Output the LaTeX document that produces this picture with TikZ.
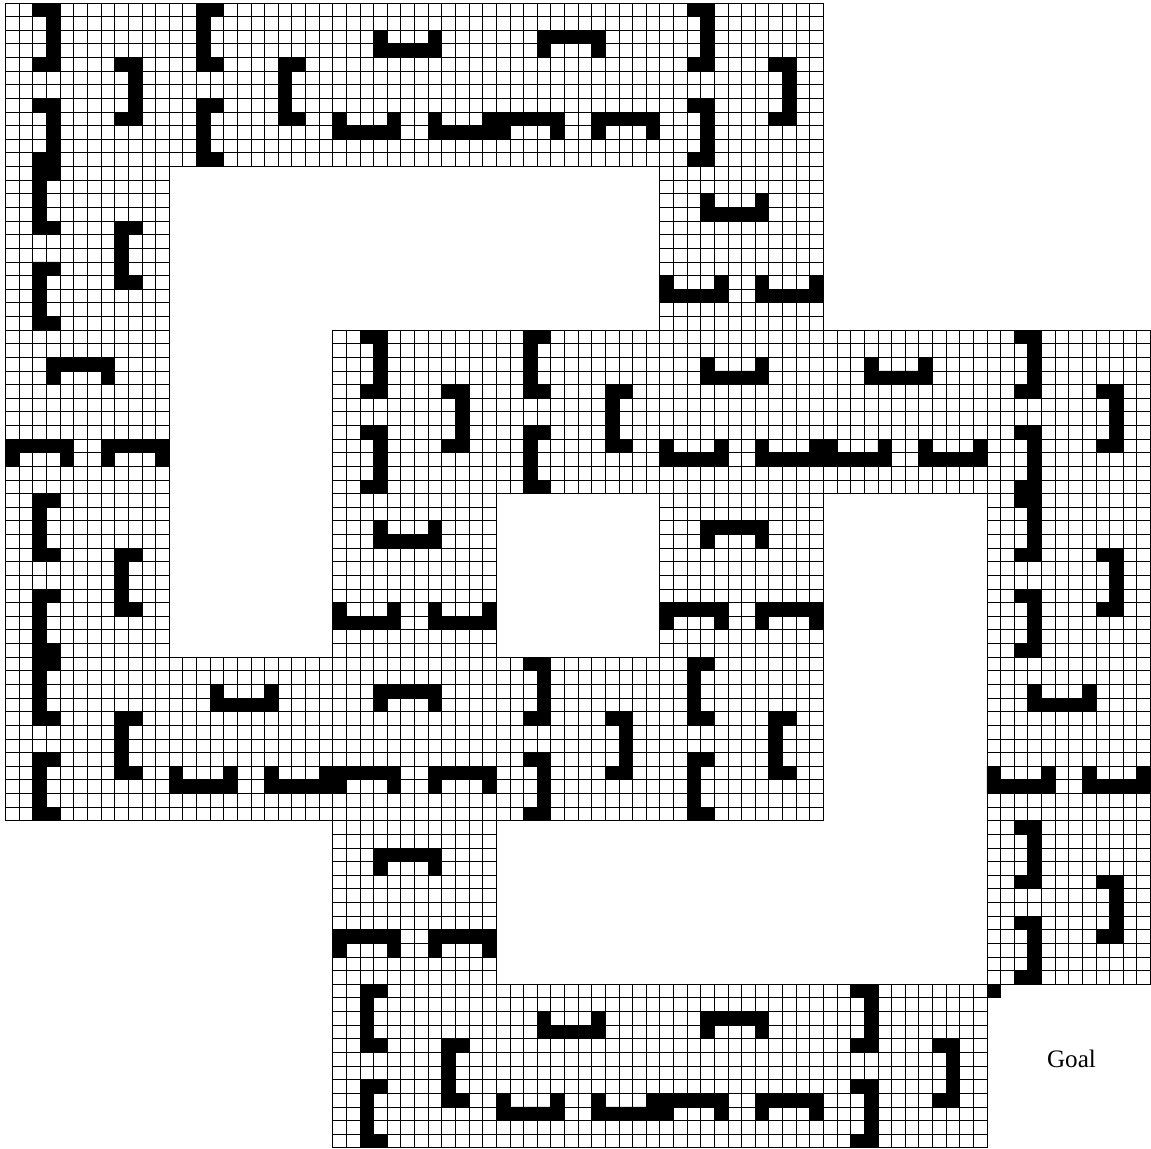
\documentclass[tikz,border=0pt]{standalone}
\usepackage{fontspec}
\setmainfont{Liberation Serif}
\begin{document}
\begin{tikzpicture}[x=0.2cm,y=0.2cm,font=\rmfamily\fontsize{10.5}{12}\selectfont]
  \definecolor{ink}{HTML}{000000}
  % vertical tiles: column/row/facing (1 = ], -1 = [)
  \foreach \tc/\tr/\dir in {0/0/1,1/0/-1,4/0/1,0/1/-1,2/2/1,3/2/-1,6/2/1,0/3/-1,
                            6/3/1,0/4/-1,3/4/1,4/4/-1,6/5/1,2/6/-1,5/6/1}{
    \begin{scope}[shift={(12*\tc,-12*\tr)}]
      \foreach \k in {0,...,12}{
        \draw[ink,line width=0.38pt] (\k,0) -- (\k,-12);
        \draw[ink,line width=0.38pt] (0,-\k) -- (12,-\k);
      }
      \foreach \bx/\by in {2/0,8/4,2/7}{
        \fill[ink,shift={(\bx+1,-\by)},xscale=\dir]
          (-1,0) -- (1,0) -- (1,-5) -- (-1,-5) -- (-1,-4) -- (0,-4) -- (0,-1) -- (-1,-1) -- cycle;
      }
    \end{scope}
  }
  % horizontal tiles: column/row/facing (1 = cup, -1 = cap)
  \foreach \tc/\tr/\dir in {2/0/1,3/0/-1,4/1/1,0/2/-1,4/2/1,5/2/1,2/3/1,
                            4/3/-1,1/4/1,2/4/-1,6/4/1,2/5/-1,3/6/1,4/6/-1}{
    \begin{scope}[shift={(12*\tc,-12*\tr)}]
      \foreach \k in {0,...,12}{
        \draw[ink,line width=0.38pt] (\k,0) -- (\k,-12);
        \draw[ink,line width=0.38pt] (0,-\k) -- (12,-\k);
      }
      \foreach \bx/\by in {3/2,0/8,7/8}{
        \fill[ink,shift={(\bx,-\by-1)},yscale=\dir]
          (0,-1) -- (5,-1) -- (5,1) -- (4,1) -- (4,0) -- (1,0) -- (1,1) -- (0,1) -- cycle;
      }
    \end{scope}
  }
  \fill[ink] (72,-72) rectangle (73,-73);
  \node[text=ink] (goal) at (78.2,-77.5) {Goal};
  \path[use as bounding box] (-0.417,0.22) rectangle (83.75,-83.95);
\end{tikzpicture}
\end{document}
